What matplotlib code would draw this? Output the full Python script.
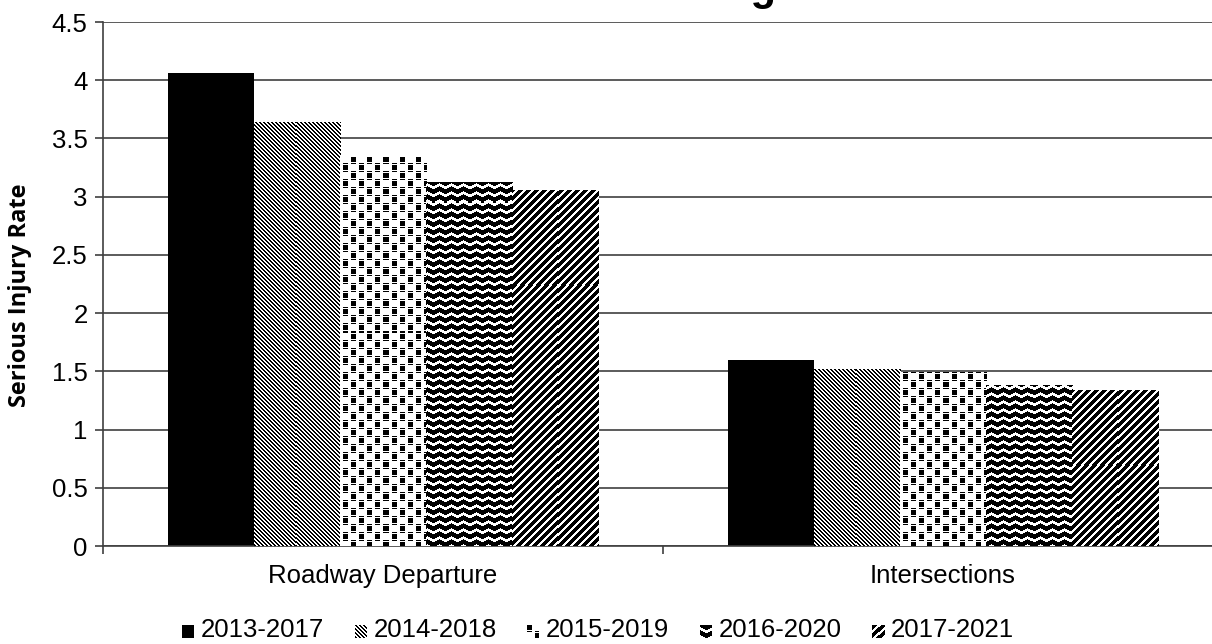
import numpy as np
import matplotlib
matplotlib.use('Agg')
import matplotlib.pyplot as plt

plt.rcParams['font.family'] = 'Liberation Sans'

categories = ['Roadway Departure', 'Intersections']
periods = ['2013-2017', '2014-2018', '2015-2019', '2016-2020', '2017-2021']
roadway_departure = [4.06, 3.64, 3.35, 3.13, 3.06]
intersections = [1.60, 1.52, 1.49, 1.38, 1.34]
y_ticks = [0, 0.5, 1, 1.5, 2, 2.5, 3, 3.5, 4, 4.5]

W, H, DPI = 1212, 644, 100
AX_L, AX_B, AX_W, AX_H = 103, 98, 1120, 524   # axes box in pixels
GRID = '#3f3f3f'


def pattern(kind, h, w):
    """Excel style fill: 0 = black pixel, 1 = white pixel."""
    yy, xx = np.mgrid[0:h, 0:w]
    if kind == 0:
        black = np.ones((h, w), bool)
    elif kind == 1:
        black = ((xx - yy) % 4) < 2
    elif kind == 2:
        px, py = xx % 16, yy % 16
        col_a = px < 5
        col_b = (px >= 8) & (px < 13)
        sq = (col_a & (py < 5)) | (col_b & (py >= 8) & (py < 13))
        dash = ((py == 6) | (py == 14)) & (col_a | col_b)
        black = sq | dash
    elif kind == 3:
        off = np.abs((xx % 12) - 6) // 2
        black = ((yy + off) % 8) < 5
    else:
        black = ((xx + yy) % 8) < 5
    return np.where(black, 0.0, 1.0)


fig = plt.figure(figsize=(W / DPI, H / DPI), dpi=DPI)
ax = fig.add_axes([AX_L / W, AX_B / H, AX_W / W, AX_H / H])

x = np.arange(len(categories))
width = 0.1536
xlim = (-0.5, len(categories) - 0.5)
ylim = (0, 4.5)

for i, label in enumerate(periods):
    vals = [roadway_departure[i], intersections[i]]
    bars = ax.bar(x + (i - 2) * width, vals, width,
                  color='black' if i == 0 else 'white',
                  edgecolor='none', zorder=2, label=label)
    if i == 0:
        continue
    fill = pattern(i, AX_H, AX_W)
    for b in bars:
        im = ax.imshow(fill, cmap='gray', vmin=0, vmax=1,
                       extent=(xlim[0], xlim[1], ylim[0], ylim[1]),
                       origin='upper', interpolation='nearest',
                       aspect='auto', zorder=3)
        im.set_clip_path(b)

ax.set_xlim(*xlim)
ax.set_ylim(*ylim)

# axes styling
ax.set_axisbelow(True)
ax.yaxis.grid(True, color=GRID, linewidth=1.2)
for side in ('top', 'right'):
    ax.spines[side].set_visible(False)
for side in ('left', 'bottom'):
    ax.spines[side].set_color(GRID)
    ax.spines[side].set_linewidth(1.2)

ax.set_yticks(y_ticks)
ax.set_yticklabels([f'{t:g}' for t in y_ticks])
ax.tick_params(axis='y', length=6, width=1.2, color=GRID,
               labelsize=18.5, pad=5)
ax.set_xticks(x)
ax.set_xticklabels(categories)
ax.set_xticks([-0.5, 0.5, 1.5], minor=True)
ax.tick_params(axis='x', which='major', length=0, labelsize=18.5, pad=13)
ax.tick_params(axis='x', which='minor', length=6, width=1.2, color=GRID)

fig.text(20 / W, 1 - 295 / H, 'Serious Injury Rate', rotation=90,
         ha='center', va='center', fontsize=17, fontweight='bold',
         family='Open Sans')

fig.text(650 / W, 1.0, '5-Year Average', ha='center', va='baseline',
         fontsize=30, fontweight='bold')

# legend row under the chart
for i, label in enumerate(periods):
    x0 = 182 + 172.5 * i
    lax = fig.add_axes([x0 / W, 1 - 638 / H, 12 / W, 13 / H])
    lax.imshow(pattern(i, 13, 12), cmap='gray', vmin=0, vmax=1,
               interpolation='nearest', aspect='auto')
    lax.axis('off')
    fig.text((x0 + 19) / W, 1 - 630 / H, label, ha='left', va='center',
             fontsize=18.5)

fig.savefig('out.png', dpi=DPI)
